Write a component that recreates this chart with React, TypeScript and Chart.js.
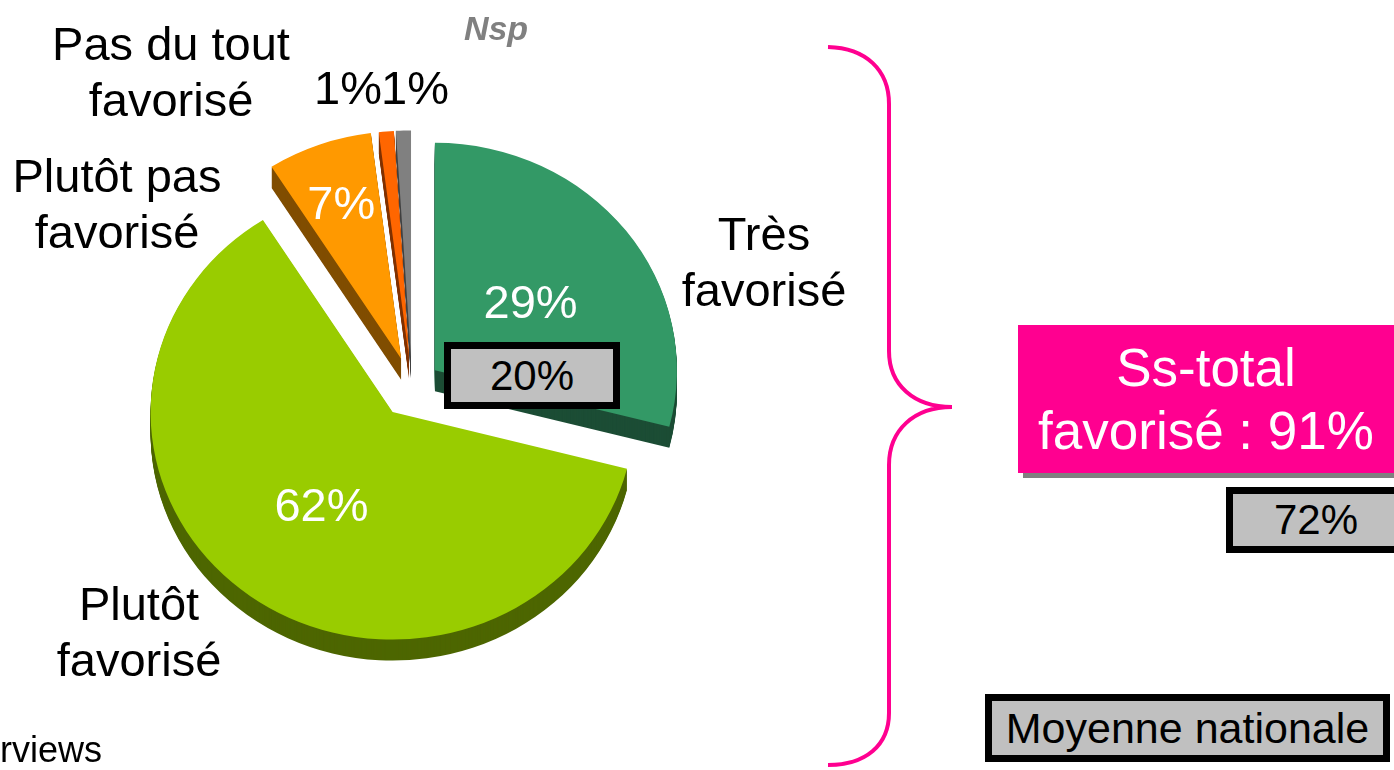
import React, { useEffect, useRef } from "react";
import { Chart, registerables } from "chart.js";

Chart.register(...registerables);

// ---------- data ----------
const categories = ["Très\nfavorisé", "Plutôt\nfavorisé", "Plutôt pas\nfavorisé", "Pas du tout\nfavorisé", "Nsp"];
const values = [29, 62, 7, 1, 1];
const nationalAverageTres = 20;
const subtotalFavorise = 91;
const nationalAverageSubtotal = 72;
const nationalLabel = "Moyenne nationale";
const footnote = "rviews";

// ---------- styles ----------
const FONT = '"Liberation Sans", Arial, Helvetica, sans-serif';
const topColors = ["#339966", "#99CC00", "#FF9900", "#FF6600", "#808080"];
const sideColors = ["#1C4D35", "#4D6600", "#804D00", "#803300", "#404040"];
const explode = [29, 33, 32, 31, 31];
const TILT = 0.94;
const DEPTH = 21;
const RADIUS = 242;
const PINK = "#FF0090";
const LABEL_SIZE = 47;
// inside % label radial fraction (null = outside label)
const insideFrac: (number | null)[] = [0.5, 0.5, 0.73, null, null];
// outside % label offsets from pie centre
const outsidePct: ([number, number] | null)[] = [null, null, null, [-64, -283], [3, -283]];
// category label first-line baseline offsets from pie centre
const catPos: [number, number][] = [[352, -137], [-273, 233], [-295, -195], [-241, -327], [84, -347]];
const LINE_H = 56;

function arcGeom(arc: any, i: number) {
  const p = arc.getProps(["x", "y", "startAngle", "endAngle", "outerRadius"], true);
  const mid = (p.startAngle + p.endAngle) / 2;
  return { ...p, mid, dx: Math.cos(mid) * explode[i], dy: Math.sin(mid) * explode[i] };
}

const pie3d = {
  id: "pie3d",
  beforeDatasetDraw(chart: any, args: any) {
    const ctx: CanvasRenderingContext2D = chart.ctx;
    const arcs = args.meta.data;
    if (!arcs.length) return false;
    const cy = arcs[0].y;
    const geoms = arcs.map((a: any, i: number) => arcGeom(a, i));
    const wedge = (g: any) => {
      ctx.beginPath();
      ctx.moveTo(g.x + g.dx, g.y + g.dy);
      ctx.arc(g.x + g.dx, g.y + g.dy, g.outerRadius, g.startAngle, g.endAngle);
      ctx.closePath();
    };
    for (let d = DEPTH; d >= 1; d--) {
      ctx.save();
      ctx.translate(0, cy + d);
      ctx.scale(1, TILT);
      ctx.translate(0, -cy);
      geoms.forEach((g: any, i: number) => {
        ctx.fillStyle = sideColors[i];
        wedge(g);
        ctx.fill();
      });
      ctx.restore();
    }
    arcs.forEach((arc: any, i: number) => {
      const g = geoms[i];
      ctx.save();
      ctx.translate(0, cy);
      ctx.scale(1, TILT);
      ctx.translate(0, -cy);
      ctx.translate(g.dx, g.dy);
      arc.draw(ctx);
      ctx.restore();
    });
    return false;
  },
};

const labelPlugin = {
  id: "sliceLabels",
  afterDatasetsDraw(chart: any) {
    const ctx: CanvasRenderingContext2D = chart.ctx;
    const arcs = chart.getDatasetMeta(0).data;
    if (!arcs.length) return;
    const cx = arcs[0].x;
    const cy = arcs[0].y;
    ctx.save();
    ctx.textAlign = "center";
    ctx.textBaseline = "alphabetic";
    arcs.forEach((arc: any, i: number) => {
      const g = arcGeom(arc, i);
      const f = insideFrac[i];
      const txt = values[i] + "%";
      ctx.font = `${LABEL_SIZE}px ${FONT}`;
      if (f != null) {
        const r = g.outerRadius * f + explode[i];
        const x = g.x + Math.cos(g.mid) * r;
        const y = cy + (g.y + Math.sin(g.mid) * r - cy) * TILT;
        ctx.fillStyle = "#FFFFFF";
        ctx.fillText(txt, x, y + 0.36 * LABEL_SIZE);
      } else {
        const o = outsidePct[i]!;
        ctx.fillStyle = "#000000";
        ctx.fillText(txt, cx + o[0], cy + o[1]);
      }
    });
    categories.forEach((c, i) => {
      const lines = c.split("\n");
      const [ox, oy] = catPos[i];
      if (c === "Nsp") {
        ctx.font = `italic bold 34px ${FONT}`;
        ctx.fillStyle = "#808080";
      } else {
        ctx.font = `${LABEL_SIZE}px ${FONT}`;
        ctx.fillStyle = "#000000";
      }
      lines.forEach((ln, k) => ctx.fillText(ln, cx + ox, cy + oy + k * LINE_H));
    });
    ctx.restore();
  },
};

const boxStyle = (left: number, top: number, width: number, height: number, fontSize: number): React.CSSProperties => ({
  position: "absolute",
  left,
  top,
  width,
  height,
  boxSizing: "border-box",
  border: "7px solid #000",
  background: "#C0C0C0",
  color: "#000",
  fontFamily: FONT,
  fontSize,
  display: "flex",
  alignItems: "center",
  justifyContent: "center",
  whiteSpace: "nowrap",
});

export default function App() {
  const ref = useRef<HTMLCanvasElement | null>(null);
  useEffect(() => {
    if (!ref.current) return;
    const chart = new Chart(ref.current, {
      type: "pie",
      data: {
        labels: categories,
        datasets: [
          {
            data: values,
            backgroundColor: topColors,
            borderWidth: 0,
            radius: RADIUS,
          } as any,
        ],
      },
      options: {
        responsive: false,
        animation: false,
        events: [],
        layout: { padding: { left: 0, right: 570, top: 4, bottom: 0 } },
        plugins: { legend: { display: false }, tooltip: { enabled: false } },
      },
      plugins: [pie3d as any, labelPlugin as any],
    });
    return () => chart.destroy();
  }, []);

  return (
    <div style={{ position: "fixed", left: 0, top: 0, width: 1394, height: 770, overflow: "hidden", background: "#fff" }}>
      <canvas ref={ref} width={1394} height={770} style={{ position: "absolute", left: 0, top: 0, display: "block" }} />
      <svg width={1394} height={770} style={{ position: "absolute", left: 0, top: 0, pointerEvents: "none" }}>
        <path
          d="M 828 47 C 866 48, 889 70, 889 104 L 889 351 C 889 385, 914 407, 952 407 C 914 407, 889 430, 889 465 L 889 713 C 889 745, 866 765, 828 765"
          fill="none"
          stroke={PINK}
          strokeWidth={4}
        />
        <text x={0} y={762} fontFamily={FONT} fontSize={36} fill="#000">
          {footnote}
        </text>
      </svg>
      <div style={boxStyle(444, 342, 176, 67, 42)}>{nationalAverageTres}%</div>
      <div
        style={{
          position: "absolute",
          left: 1018,
          top: 325,
          width: 376,
          height: 148,
          background: PINK,
          boxShadow: "5px 5px 0 #808080",
          color: "#fff",
          fontFamily: FONT,
          fontSize: 53,
          lineHeight: "63px",
          display: "flex",
          flexDirection: "column",
          alignItems: "center",
          justifyContent: "center",
          textAlign: "center",
        }}
      >
        <div>Ss-total</div>
        <div style={{ whiteSpace: "nowrap" }}>favorisé : {subtotalFavorise}%</div>
      </div>
      <div style={boxStyle(1226, 487, 180, 66, 42)}>{nationalAverageSubtotal}%</div>
      <div style={boxStyle(985, 694, 405, 68, 43)}>{nationalLabel}</div>
    </div>
  );
}
